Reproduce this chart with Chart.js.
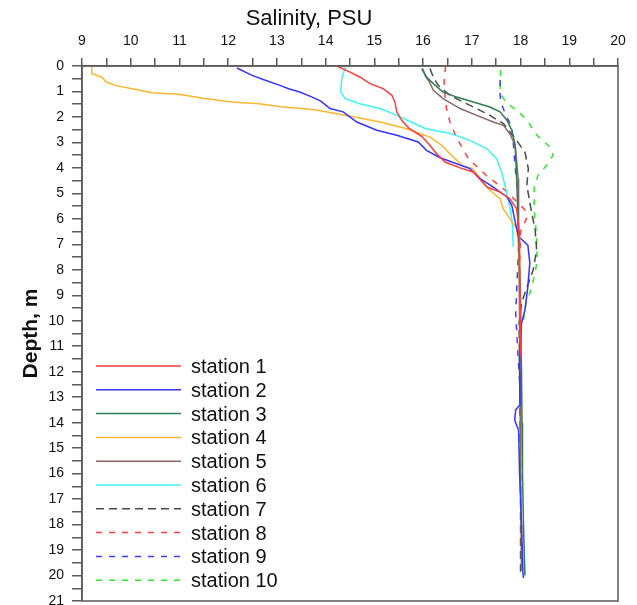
<!DOCTYPE html>
<html>
<head>
<meta charset="utf-8">
<title>Salinity profiles</title>
<script src="https://cdn.jsdelivr.net/npm/chart.js@4"></script>
<style>
    html, body { margin: 0; padding: 0; background: #ffffff; }
    canvas { display: block; }
</style>
</head>
<body>
<canvas id="salinityChart" width="637" height="605"></canvas>
<script>
// ==========================================
// Data (salinity PSU / depth m per station)
// ==========================================

const stationNames = ['station 1', 'station 2', 'station 3', 'station 4', 'station 5',
    'station 6', 'station 7', 'station 8', 'station 9', 'station 10'];

const s1Sal = [14.23, 14.5, 14.7, 14.91, 15.18, 15.36, 15.42, 15.46, 15.56, 15.72, 15.97, 16.14, 16.28, 16.45, 16.76, 17.03, 17.31, 17.58, 17.78, 17.92, 17.97, 17.98, 18.0, 18.0];
const s1Depth = [0, 0.24, 0.43, 0.69, 0.89, 1.15, 1.41, 1.8, 2.13, 2.46, 2.76, 3.11, 3.45, 3.77, 4.0, 4.16, 4.75, 4.95, 5.21, 5.6, 6.5, 8, 9.5, 11.4];

const s2Sal = [12.18, 12.49, 12.76, 13.06, 13.24, 13.47, 13.7, 13.9, 14.09, 14.36, 14.64, 15.05, 15.46, 15.9, 16.07, 16.35, 16.96, 17.17, 17.44, 17.72, 17.82, 17.89, 17.96, 18.15, 18.19, 18.15, 18.09, 18.02, 17.98, 17.99, 17.9, 17.88, 17.96, 17.98, 18.02, 18.05, 18.06];
const s2Depth = [0.08, 0.37, 0.56, 0.76, 0.89, 1.02, 1.2, 1.38, 1.67, 1.8, 2.2, 2.52, 2.72, 2.98, 3.31, 3.6, 4.03, 4.42, 4.75, 5.14, 5.47, 6.12, 6.7, 7.03, 7.73, 8.66, 9.58, 10.1, 11.5, 13.3, 13.5, 13.9, 14.3, 16, 18, 19.9, 20.1];

const s3Sal = [15.97, 16.07, 16.21, 16.41, 16.69, 17.03, 17.37, 17.58, 17.72, 17.82, 17.89, 17.92, 17.95, 17.98, 18.0, 18.02, 18.03, 18.04, 18.06, 18.09];
const s3Depth = [0.1, 0.43, 0.69, 1.02, 1.22, 1.41, 1.61, 1.8, 2.13, 2.52, 3.11, 4.42, 6.12, 8, 10, 12, 14, 16, 18, 20];

const s4Sal = [9.2, 9.2, 9.4, 9.5, 9.68, 10.03, 10.44, 10.98, 11.52, 12.08, 12.63, 13.08, 13.77, 14.43, 15.12, 15.66, 16.14, 16.38, 16.58, 16.8, 17.02, 17.17, 17.37, 17.58, 17.64, 17.78, 17.92, 17.97, 17.98, 18.0];
const s4Depth = [0, 0.3, 0.43, 0.63, 0.76, 0.89, 1.05, 1.11, 1.28, 1.41, 1.48, 1.6, 1.72, 1.94, 2.2, 2.46, 2.79, 3.11, 3.5, 3.9, 4.03, 4.42, 4.88, 5.21, 5.6, 5.99, 6.39, 7.3, 8.5, 10.0];

const s5Sal = [15.99, 16.05, 16.13, 16.21, 16.41, 16.76, 17.1, 17.44, 17.65, 17.78, 17.89, 17.95, 17.96, 17.97, 17.98, 17.99, 18.0, 18.0, 18.01, 18.02];
const s5Depth = [0.1, 0.4, 0.63, 0.95, 1.28, 1.67, 1.94, 2.2, 2.33, 2.66, 3.11, 4.42, 6, 8, 10, 12, 14, 16, 18, 19.8];

const s6Sal = [14.41, 14.33, 14.31, 14.4, 14.7, 15.12, 15.46, 15.7, 16.05, 16.58, 16.96, 17.31, 17.51, 17.61, 17.68, 17.76, 17.83, 17.85];
const s6Depth = [0, 0.5, 1.02, 1.28, 1.48, 1.67, 1.94, 2.15, 2.46, 2.66, 2.92, 3.25, 3.64, 4.16, 4.68, 5.34, 6.12, 7.1];

const s7Sal = [16.14, 16.21, 16.31, 16.55, 16.89, 17.31, 17.65, 17.89, 18.09, 18.16, 18.13, 18.2, 18.3, 18.33, 18.26, 18.16, 18.02, 17.97, 17.98, 17.99, 18.0, 18.0, 18.0];
const s7Depth = [0.1, 0.43, 0.76, 1.15, 1.48, 1.87, 2.26, 2.85, 3.38, 4.03, 4.68, 5.47, 6.44, 7.22, 8.0, 8.53, 9.31, 10.1, 12, 14, 16, 18, 19.85];

const s8Sal = [16.46, 16.43, 16.45, 16.48, 16.55, 16.68, 16.93, 17.3, 17.7, 18.09, 18.12, 18.0, 17.98, 17.99, 18.0];
const s8Depth = [0, 0.63, 1.15, 1.67, 2.2, 2.79, 3.64, 4.3, 4.9, 5.65, 6.0, 6.5, 8, 9.5, 11];

const s9Sal = [17.58, 17.58, 17.6, 17.7, 17.82, 17.85, 17.89, 17.94, 17.96, 17.9, 17.98, 18.0];
const s9Depth = [0.55, 1.15, 1.45, 1.94, 2.38, 3.0, 3.95, 5.0, 7.1, 9.7, 12.4, 13.3];

const s10Sal = [17.59, 17.58, 17.72, 17.92, 18.13, 18.33, 18.6, 18.67, 18.54, 18.36, 18.28, 18.28, 18.33, 18.34, 18.3, 18.19, 18.11, 18.06];
const s10Depth = [0.16, 1.07, 1.47, 1.73, 2.12, 2.71, 3.17, 3.49, 3.89, 4.28, 4.74, 5.65, 6.7, 7.61, 8.14, 8.92, 9.31, 9.97];

const stationSal = [s1Sal, s2Sal, s3Sal, s4Sal, s5Sal, s6Sal, s7Sal, s8Sal, s9Sal, s10Sal];
const stationDepth = [s1Depth, s2Depth, s3Depth, s4Depth, s5Depth, s6Depth, s7Depth, s8Depth, s9Depth, s10Depth];

// ==========================================
// Styles
// ==========================================

const stationColors = ['#ff3b3b', '#3434ff', '#2f7d52', '#ffb52e', '#8a6565',
    '#3ef5f5', '#4a4a4a', '#ff4040', '#3d3dff', '#2ee82e'];
const stationDashes = [[], [], [], [], [], [], [8, 5], [6, 7], [6, 7], [6, 7]];

const FONT = "'Liberation Sans', Arial, sans-serif";
const AXIS_GREY = '#5a5a5a';

function toPoints(sal, depth) {
    return sal.map(function (s, i) {
        return { x: s, y: depth[i] };
    });
}

// ==========================================
// Plugins
// ==========================================

// frame round the plot area (right and bottom edges)
const framePlugin = {
    id: 'frame',
    afterDraw(chart) {
        const a = chart.chartArea;
        const ctx = chart.ctx;
        ctx.save();
        ctx.strokeStyle = AXIS_GREY;
        ctx.lineWidth = 1.5;
        ctx.strokeRect(a.left, a.top, a.right - a.left, a.bottom - a.top);
        ctx.restore();
    }
};

// legend sits inside the plot, lower left
const stationLegend = {
    id: 'stationLegend',
    afterDatasetsDraw(chart) {
        const a = chart.chartArea;
        const ctx = chart.ctx;
        const x0 = a.left + 14;
        const x1 = a.left + 99;
        const top = a.top + 300;
        const step = 23.8;

        ctx.save();
        chart.data.datasets.forEach(function (ds, i) {
            const y = top + i * step;
            ctx.beginPath();
            ctx.setLineDash(ds.borderDash || []);
            ctx.strokeStyle = ds.borderColor;
            ctx.lineWidth = 1.5;
            ctx.moveTo(x0, y);
            ctx.lineTo(x1, y);
            ctx.stroke();

            ctx.setLineDash([]);
            ctx.fillStyle = '#111111';
            ctx.font = '20px ' + FONT;
            ctx.textAlign = 'left';
            ctx.textBaseline = 'alphabetic';
            ctx.fillText(ds.label, a.left + 109, y + 7);
        });
        ctx.restore();
    }
};

// ==========================================
// Chart Setup
// ==========================================

function createChart() {
    const ctx = document.getElementById('salinityChart').getContext('2d');

    const datasets = stationNames.map(function (name, i) {
        return {
            label: name,
            data: toPoints(stationSal[i], stationDepth[i]),
            borderColor: stationColors[i],
            backgroundColor: stationColors[i],
            borderDash: stationDashes[i],
            borderWidth: 1.5,
            pointRadius: 0,
            showLine: true,
            tension: 0,
            fill: false
        };
    });

    new Chart(ctx, {
        type: 'scatter',
        data: { datasets: datasets },
        options: {
            responsive: false,
            animation: false,
            devicePixelRatio: 1,
            layout: {
                padding: { top: 0, right: 19, bottom: 4, left: 0 }
            },
            scales: {
                x: {
                    type: 'linear',
                    position: 'top',
                    min: 9,
                    max: 20,
                    afterFit: function (scale) { scale.height = 33.6; },
                    ticks: {
                        stepSize: 0.5,
                        autoSkip: false,
                        maxRotation: 0,
                        padding: 8,
                        color: '#111111',
                        font: { family: FONT, size: 14 },
                        callback: function (v) { return Number.isInteger(v) ? v : ''; }
                    },
                    grid: {
                        drawOnChartArea: false,
                        drawTicks: true,
                        tickLength: 8,
                        color: AXIS_GREY,
                        lineWidth: 1.5
                    },
                    border: { display: true, color: AXIS_GREY, width: 1.5 }
                },
                y: {
                    type: 'linear',
                    position: 'left',
                    reverse: true,
                    min: 0,
                    max: 21,
                    // the last label ("21") is allowed to run off the bottom, as in the original
                    afterFit: function (scale) {
                        scale.width = 82;
                        scale.paddingTop = 0;
                        scale.paddingBottom = 0;
                    },
                    title: {
                        display: true,
                        text: 'Depth, m',
                        color: '#111111',
                        font: { family: FONT, size: 21, weight: 'bold' },
                        padding: { top: 19, bottom: 0 }
                    },
                    ticks: {
                        stepSize: 0.5,
                        autoSkip: false,
                        padding: 8,
                        color: '#111111',
                        font: { family: FONT, size: 14 },
                        callback: function (v) { return Number.isInteger(v) ? v : ''; }
                    },
                    grid: {
                        drawOnChartArea: false,
                        drawTicks: true,
                        tickLength: 10,
                        color: AXIS_GREY,
                        lineWidth: 1.5
                    },
                    border: { display: true, color: AXIS_GREY, width: 1.5 }
                }
            },
            plugins: {
                title: {
                    display: true,
                    text: 'Salinity, PSU',
                    color: '#111111',
                    font: { family: FONT, size: 22, weight: 'normal' },
                    padding: { top: 6, bottom: 0 }
                },
                legend: { display: false },
                tooltip: { enabled: false }
            }
        },
        plugins: [framePlugin, stationLegend]
    });
}

document.addEventListener('DOMContentLoaded', createChart);
</script>
</body>
</html>
